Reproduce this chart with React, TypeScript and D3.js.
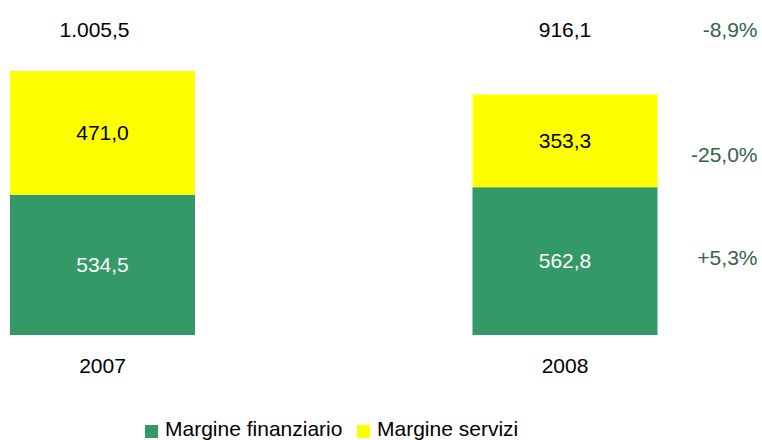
import React from 'react'
import * as d3 from 'd3'

const years = ['2007', '2008']
const finanziario = [534.5, 562.8]
const servizi = [471.0, 353.3]
const totals = ['1.005,5', '916,1']
const finLabels = ['534,5', '562,8']
const servLabels = ['471,0', '353,3']
const changes = ['-8,9%', '-25,0%', '+5,3%']
const legendNames = ['Margine finanziario', 'Margine servizi']

const GREEN = '#339966'
const YELLOW = '#ffff00'
const PCT = '#37624a'
const FONT = '"Liberation Sans", Arial, sans-serif'

export default function App() {
  const width = 762
  const height = 440
  const bottom = 335

  const maxTotal = d3.max(finanziario.map((v, i) => v + servizi[i])) as number
  const y = d3.scaleLinear().domain([0, maxTotal]).range([bottom, 71])
  const x = d3.scaleBand().domain(years).range([10, 657.5]).paddingInner(0.6).paddingOuter(0)
  const bw = x.bandwidth()

  const last = years.length - 1
  const pctX = (x(years[last]) as number) + bw + 100
  const lastTop = y(finanziario[last] + servizi[last])
  const lastMid = y(finanziario[last])
  // change labels: total, servizi, finanziario
  const pctY = [37, (lastTop + lastMid) / 2 + 21, (lastMid + bottom) / 2 + 4]

  return (
    <svg width={width} height={height} style={{ position: 'absolute', left: 0, top: 0 }} fontFamily={FONT}>
      <rect width={width} height={height} fill="#fff" />
      {years.map((yr, i) => {
        const x0 = x(yr) as number
        const cx = x0 + bw / 2
        const yFin = y(finanziario[i])
        const yTop = y(finanziario[i] + servizi[i])
        return (
          <g key={yr}>
            <rect x={x0} y={yFin} width={bw} height={bottom - yFin} fill={GREEN} />
            <rect x={x0} y={yTop} width={bw} height={yFin - yTop} fill={YELLOW} />
            <text x={cx} y={(yFin + bottom) / 2} dy="0.35em" textAnchor="middle" fontSize={21} fill="#fff">
              {finLabels[i]}
            </text>
            <text x={cx} y={(yTop + yFin) / 2} dy="0.35em" textAnchor="middle" fontSize={21} fill="#000">
              {servLabels[i]}
            </text>
            <text x={cx - (i === 0 ? 8 : 0)} y={37} textAnchor="middle" fontSize={21} fill="#000">
              {totals[i]}
            </text>
            <text x={cx} y={bottom + 38} textAnchor="middle" fontSize={21} fill="#000">
              {yr}
            </text>
          </g>
        )
      })}
      {changes.map((c, i) => (
        <text key={c} x={pctX} y={pctY[i]} textAnchor="end" fontSize={21} fill={PCT}>
          {c}
        </text>
      ))}
      <g>
        <rect x={145} y={425} width={13} height={13} fill={GREEN} />
        <text x={165} y={436} fontSize={21} fill="#000">{legendNames[0]}</text>
        <rect x={357} y={425} width={13} height={13} fill={YELLOW} />
        <text x={377} y={436} fontSize={21} fill="#000">{legendNames[1]}</text>
      </g>
    </svg>
  )
}
